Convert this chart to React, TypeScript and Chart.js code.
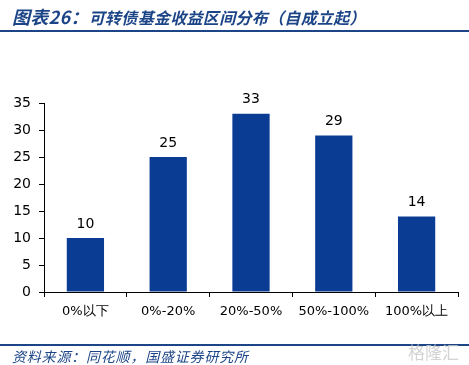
import React, { useEffect, useRef } from "react";
import { Chart, registerables } from "chart.js";

Chart.register(...registerables);

const categories = ["0%以下", "0%-20%", "20%-50%", "50%-100%", "100%以上"];
const counts = [10, 25, 33, 29, 14];
const yTicks = [0, 5, 10, 15, 20, 25, 30, 35];

const BAR_COLOR = "#0a3c94";
const BLUE = "#1c4587";

const valueLabels = {
  id: "valueLabels",
  afterDatasetsDraw(chart: any) {
    const ctx = chart.ctx;
    const meta = chart.getDatasetMeta(0);
    ctx.save();
    ctx.fillStyle = "#000";
    ctx.font = '14px "DejaVu Sans", Verdana, sans-serif';
    ctx.textAlign = "center";
    ctx.textBaseline = "bottom";
    meta.data.forEach((bar: any, i: number) => {
      ctx.fillText(String(chart.data.datasets[0].data[i]), bar.x, bar.y - 7);
    });
    ctx.restore();
  },
};

export default function App() {
  const ref = useRef<HTMLCanvasElement>(null);
  useEffect(() => {
    document.body.style.margin = "0";
    const chart = new Chart(ref.current!, {
      type: "bar",
      data: {
        labels: categories,
        datasets: [
          {
            data: counts,
            backgroundColor: BAR_COLOR,
            categoryPercentage: 0.45,
            barPercentage: 1,
          },
        ],
      },
      options: {
        animation: false,
        responsive: false,
        layout: { padding: { top: 103, right: 11, left: 0, bottom: 0 } },
        plugins: { legend: { display: false }, tooltip: { enabled: false } },
        scales: {
          x: {
            offset: true,
            grid: {
              offset: true,
              drawOnChartArea: false,
              drawTicks: true,
              tickLength: 5,
              color: "#000",
            },
            border: { color: "#000", width: 1 },
            ticks: {
              color: "#000",
              padding: 7,
              font: { family: '"DejaVu Sans", Verdana, sans-serif', size: 13 },
            },
            afterFit(scale: any) {
              scale.height = 73;
            },
          },
          y: {
            min: 0,
            max: 35,
            grid: {
              drawOnChartArea: false,
              drawTicks: true,
              tickLength: 5,
              color: "#000",
            },
            border: { color: "#000", width: 1 },
            afterBuildTicks(scale: any) {
              scale.ticks = yTicks.map((v) => ({ value: v }));
            },
            ticks: {
              color: "#000",
              padding: 8,
              font: { family: '"DejaVu Sans", Verdana, sans-serif', size: 14 },
            },
            afterFit(scale: any) {
              scale.width = 44;
            },
          },
        },
      },
      plugins: [valueLabels],
    });
    return () => chart.destroy();
  }, []);

  return (
    <div style={{ position: "relative", width: 469, height: 365, background: "#fff", overflow: "hidden" }}>
      <canvas ref={ref} width={469} height={365} style={{ position: "absolute", left: 0, top: 0 }} />
      <div
        style={{
          position: "absolute",
          left: 12,
          top: 5,
          fontFamily: '"Noto Sans CJK SC", sans-serif',
          fontWeight: "bold",
          fontStyle: "italic",
          fontSize: 16,
          letterSpacing: 0.3,
          color: BLUE,
          whiteSpace: "nowrap",
          lineHeight: "22px",
        }}
      >
        <span style={{ fontSize: 18 }}>图表26：</span>可转债基金收益区间分布（自成立起）
      </div>
      <div style={{ position: "absolute", left: 0, top: 30, width: 469, height: 2, background: BLUE }} />
      <div style={{ position: "absolute", left: 0, top: 344, width: 469, height: 2, background: BLUE }} />
      <div
        style={{
          position: "absolute",
          left: 12,
          top: 347,
          fontFamily: '"Noto Sans CJK SC", sans-serif',
          fontStyle: "italic",
          fontSize: 14,
          letterSpacing: 0.8,
          color: BLUE,
          whiteSpace: "nowrap",
          lineHeight: "18px",
        }}
      >
        资料来源：同花顺，国盛证券研究所
      </div>
      <div
        style={{
          position: "absolute",
          right: 10,
          top: 339,
          fontFamily: '"Noto Sans CJK SC", sans-serif',
          fontSize: 17,
          color: "rgba(200,200,200,0.8)",
          whiteSpace: "nowrap",
        }}
      >
        格隆汇
      </div>
    </div>
  );
}
